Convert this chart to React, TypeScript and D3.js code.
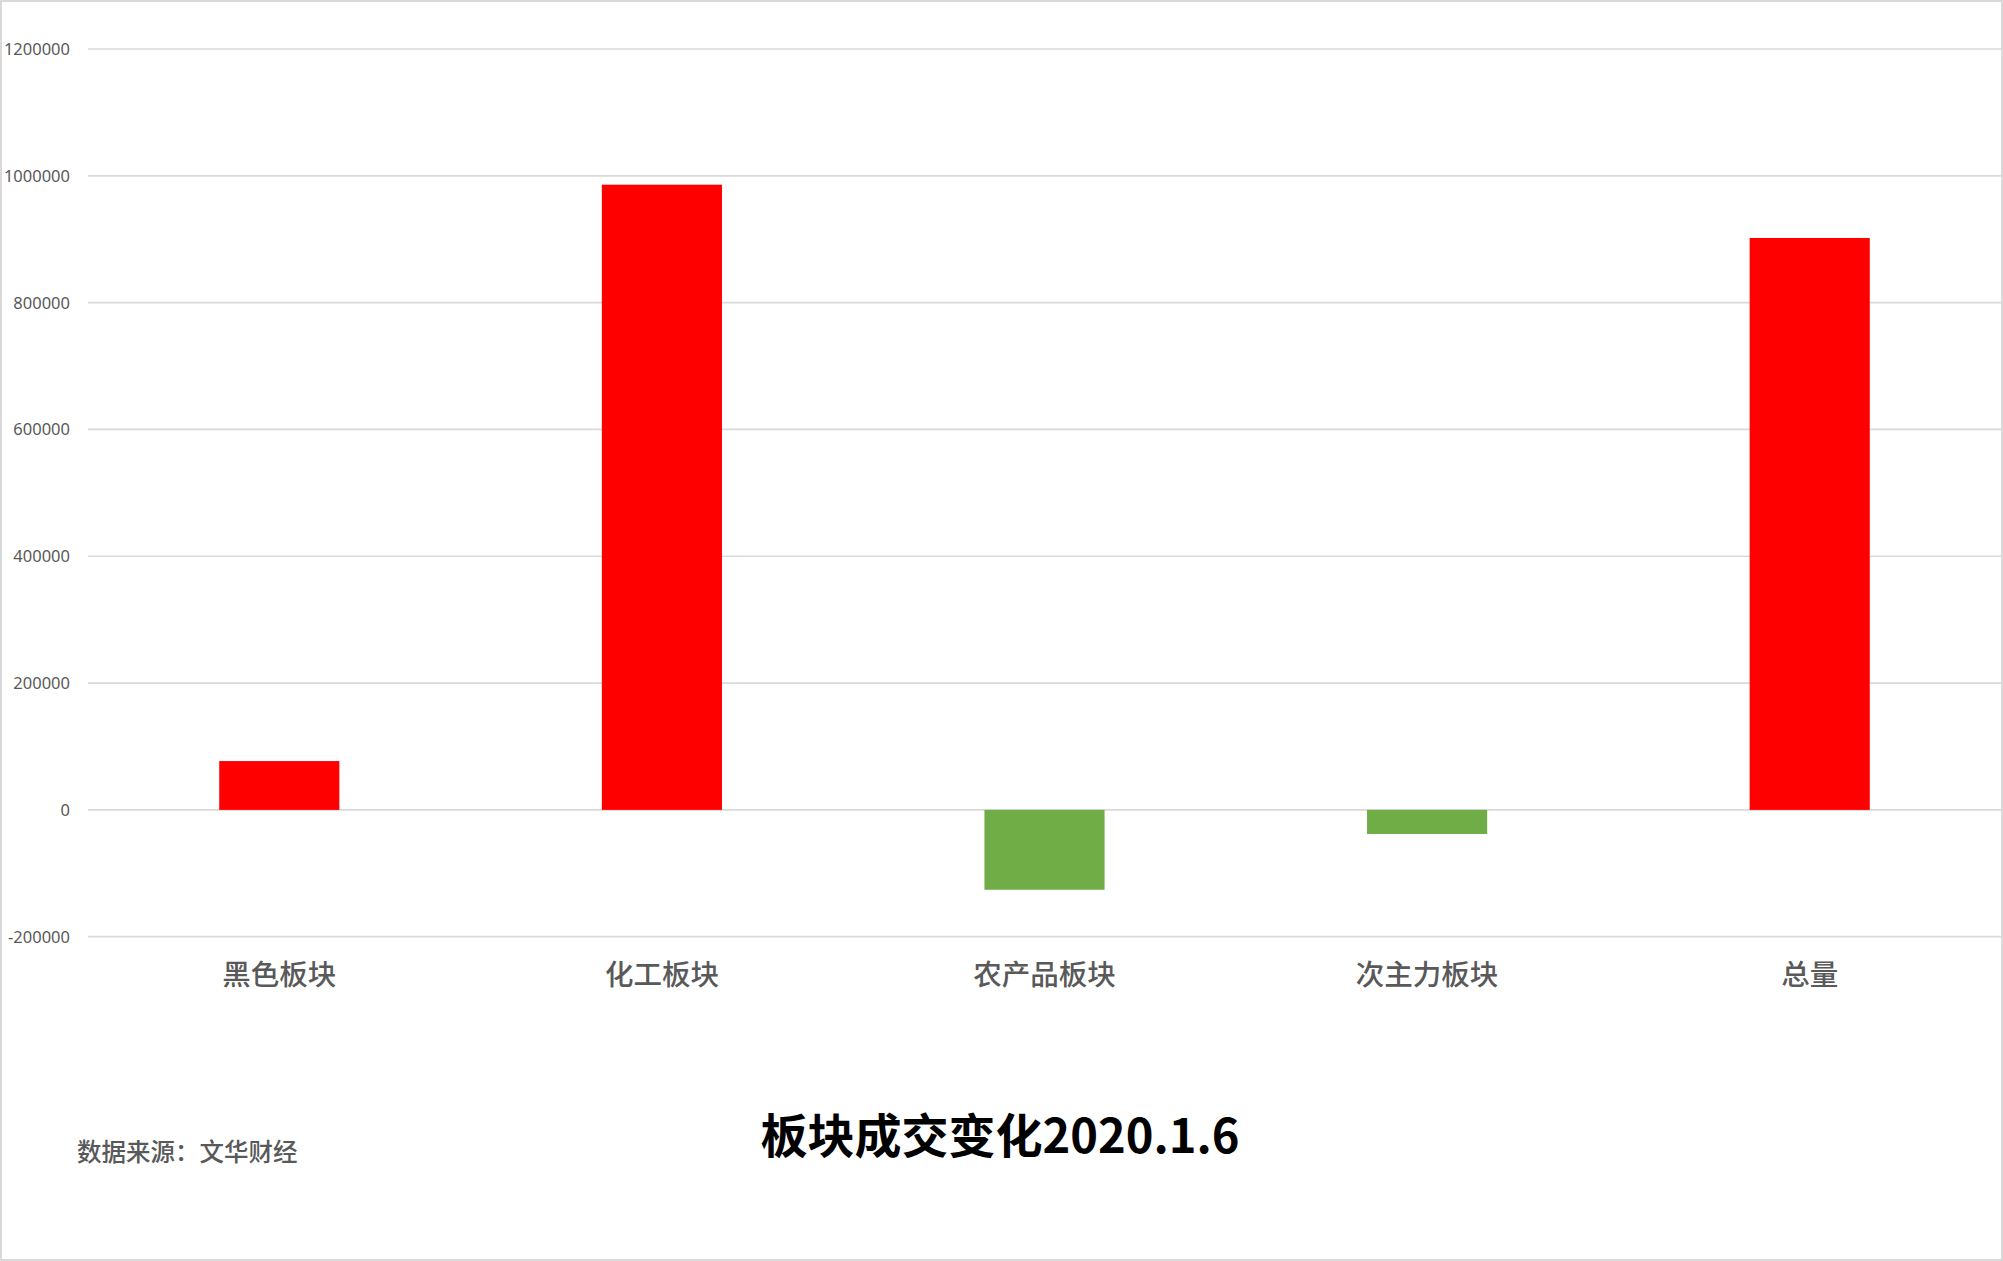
import * as d3 from "d3";

const categories = ["黑色板块", "化工板块", "农产品板块", "次主力板块", "总量"];
const values = [77000, 986000, -126000, -38000, 902000];
const yTicks = [-200000, 0, 200000, 400000, 600000, 800000, 1000000, 1200000];

const title = "板块成交变化2020.1.6";
const source = "数据来源：文华财经";

const W = 2003;
const H = 1261;

function App() {
  const x = d3
    .scaleBand<string>()
    .domain(categories)
    .range([88, 2001])
    .paddingInner(0.686)
    .paddingOuter(0.343);

  const y = d3.scaleLinear().domain([-200000, 1200000]).range([936.7, 49]);

  const cjk = "'Noto Sans CJK SC', 'Noto Sans', sans-serif";

  return (
    <svg
      width={W}
      height={H}
      style={{ position: "absolute", left: 0, top: 0, display: "block", background: "#fff" }}
    >
      <rect x={1} y={1} width={W - 2} height={H - 2} fill="#fff" stroke="#d9d9d9" strokeWidth={2} />

      {/* grid + y labels */}
      {yTicks.map((t) => (
        <g key={t}>
          <line x1={88} x2={2001} y1={y(t)} y2={y(t)} stroke="#d9d9d9" strokeWidth={1.7} />
          <text
            x={70}
            y={y(t) + 6}
            textAnchor="end"
            fontFamily="'Noto Sans', sans-serif"
            fontSize={16.5}
            fill="#595959"
          >
            {t}
          </text>
        </g>
      ))}

      {/* bars */}
      {categories.map((c, i) => {
        const v = values[i];
        return (
          <rect
            key={c}
            x={x(c)}
            width={x.bandwidth()}
            y={y(Math.max(0, v))}
            height={Math.abs(y(v) - y(0))}
            fill={v >= 0 ? "#ff0000" : "#70ad47"}
          />
        );
      })}

      {/* category labels */}
      {categories.map((c) => (
        <text
          key={c}
          x={(x(c) ?? 0) + x.bandwidth() / 2}
          y={985}
          textAnchor="middle"
          fontFamily={cjk}
          fontWeight={500}
          fontSize={28.5}
          fill="#595959"
        >
          {c}
        </text>
      ))}

      <text
        x={1000}
        y={1153}
        textAnchor="middle"
        fontFamily={cjk}
        fontWeight="bold"
        fontSize={47}
        fill="#000"
      >
        {title}
      </text>

      <text x={77} y={1161} fontFamily={cjk} fontWeight={500} fontSize={24.5} fill="#595959">
        {source}
      </text>
    </svg>
  );
}

export default App;
